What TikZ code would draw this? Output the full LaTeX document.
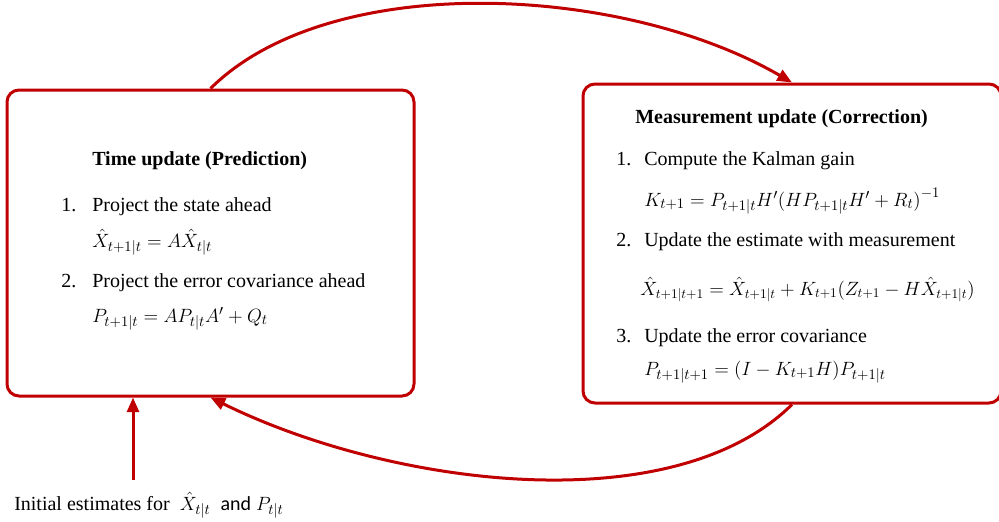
\documentclass[tikz,border=0pt]{standalone}
\usepackage{fontspec}
\setmainfont{Liberation Serif}
\newfontfamily\carlito{Carlito}
\usetikzlibrary{arrows.meta}
\definecolor{dred}{HTML}{C00000}
\begin{document}
\begin{tikzpicture}[x=0.75pt,y=-0.75pt,
  box/.style={draw=dred, line width=2.25pt, rounded corners=9pt, inner sep=0pt, fill=white},
  conn/.style={draw=dred, line width=2.25pt, -{Triangle[length=11pt,width=9pt]}},
  txt/.style={anchor=base west, inner sep=0pt, font=\fontsize{15}{18}\selectfont},
  ttl/.style={anchor=base west, inner sep=0pt, font=\fontsize{15}{18}\selectfont\bfseries}]
\useasboundingbox (0,0) rectangle (999,521);
\clip (0,0) rectangle (999,521);
% boxes
\node[box, minimum width=305.25pt, minimum height=229.5pt] (L) at (210.5,243) {};
\node[box, minimum width=313.5pt, minimum height=239.25pt] (R) at (792,243.5) {};
% left box text
\node[ttl] (lt) at (92,165) {Time update (Prediction)};
\node[txt] (l1n) at (61,211) {1.};
\node[txt] (l1) at (92,211) {Project the state ahead};
\node[txt] (l1f) at (92,247) {$\hat{X}_{t+1|t}=A\hat{X}_{t|t}$};
\node[txt] (l2n) at (61,287) {2.};
\node[txt] (l2) at (92,287) {Project the error covariance ahead};
\node[txt] (l2f) at (92,322) {$P_{t+1|t}=AP_{t|t}A'+Q_t$};
% right box text
\node[ttl] (rt) at (635,123) {Measurement update (Correction)};
\node[txt] (r1n) at (616,165) {1.};
\node[txt] (r1) at (644,165) {Compute the Kalman gain};
\node[txt] (r1f) at (644,206) {$K_{t+1}=P_{t+1|t}H'\bigl(HP_{t+1|t}H'+R_t\bigr)^{-1}$};
\node[txt] (r2n) at (616,246) {2.};
\node[txt] (r2) at (644,246) {Update the estimate with measurement};
\node[txt, font=\fontsize{14}{17}\selectfont] (r2f) at (640,295) {$\hat{X}_{t+1|t+1}=\hat{X}_{t+1|t}+K_{t+1}\bigl(Z_{t+1}-H\hat{X}_{t+1|t}\bigr)$};
\node[txt] (r3n) at (616,342) {3.};
\node[txt] (r3) at (644,342) {Update the error covariance};
\node[txt] (r3f) at (644,375) {$P_{t+1|t+1}=(I-K_{t+1}H)P_{t+1|t}$};
% initial estimates
\node[txt] (init) at (14,510) {Initial estimates for\ \ $\hat{X}_{t|t}$\ \ {\carlito and} $P_{t|t}$};
\coordinate (s) at (133,480);
% connectors
\draw[conn] (L.north) .. controls (330,-30) and (622,-16) .. (R.north);
\draw[conn] (R.south) .. controls (672,523) and (390,486) .. (L.south);
\draw[conn] (s) -- (s |- L.south);
\end{tikzpicture}
\end{document}
